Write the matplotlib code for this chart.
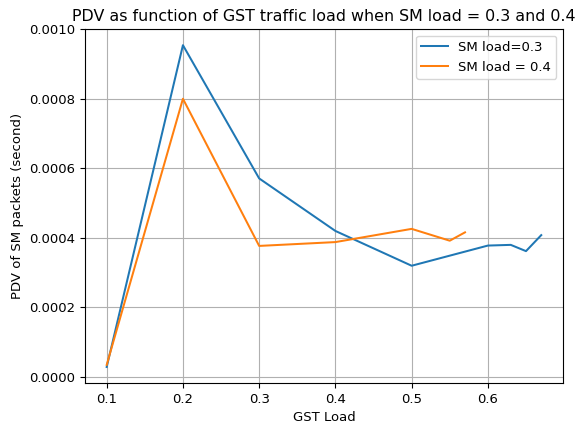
import matplotlib
matplotlib.use("Agg")
import matplotlib.pyplot as plt

# SM load = 0.3
gst_a = [0.1, 0.2, 0.3, 0.4, 0.5, 0.6, 0.63, 0.65, 0.67]
pdv_a = [0.000029, 0.000954, 0.000571, 0.000420, 0.000320, 0.000378, 0.000380, 0.000362, 0.000408]

# SM load = 0.4
gst_b = [0.1, 0.2, 0.3, 0.4, 0.5, 0.55, 0.57]
pdv_b = [0.000035, 0.000800, 0.000377, 0.000388, 0.000426, 0.000392, 0.000416]

plt.rcParams.update({
    "font.size": 9.5,
    "axes.titlesize": 11.4,
    "lines.linewidth": 1.45,
})

fig = plt.figure(figsize=(5.78, 4.28), dpi=100)
ax = fig.add_axes([0.147, 0.105, 0.827, 0.827])

ax.plot(gst_a, pdv_a, label="SM load=0.3")
ax.plot(gst_b, pdv_b, label="SM load = 0.4")

ax.set_title("PDV as function of GST traffic load when SM load = 0.3 and 0.4")
ax.set_xlabel("GST Load")
ax.set_ylabel("PDV of SM packets (second)")
ax.grid(True)
ax.legend(loc="upper right")

fig.savefig("out.png", dpi=100)
